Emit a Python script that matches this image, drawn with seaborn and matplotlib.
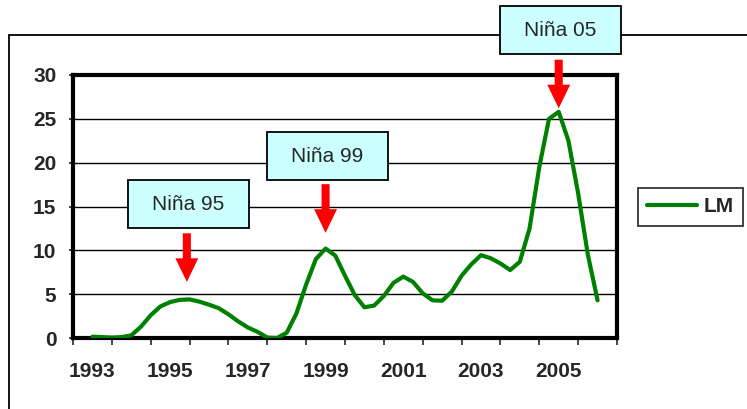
import numpy as np
import pandas as pd
import matplotlib
matplotlib.use('Agg')
import matplotlib.pyplot as plt
from matplotlib.patches import Rectangle
from matplotlib.lines import Line2D
import seaborn as sns

# quarterly values (1993 mid-year to 2006 mid-year)
lm_values = [0.15, 0.1, 0.05, 0.1, 0.3, 1.3, 2.6, 3.6, 4.1, 4.35, 4.4, 4.15,
             3.8, 3.4, 2.7, 1.9, 1.2, 0.7, 0.05, 0.0, 0.6, 2.8, 6.1, 9.0,
             10.2, 9.4, 7.1, 4.9, 3.5, 3.7, 4.8, 6.3, 7.0, 6.4, 5.1, 4.3,
             4.25, 5.3, 7.1, 8.4, 9.45, 9.1, 8.5, 7.75, 8.7, 12.5, 19.5, 25.0,
             25.8, 22.5, 16.5, 9.5, 4.3]
quarters = np.arange(len(lm_values)) * 0.25 + 1993.5
year_labels = ['1993', '1995', '1997', '1999', '2001', '2003', '2005']

events = ['Niña 95', 'Niña 99', 'Niña 05']
event_x = [1995.93, 1999.5, 2005.5]
event_y = [6.4, 12.0, 26.2]
box_px = [(128, 180), (267, 132), (500, 6)]  # top-left corner in pixels

df = pd.DataFrame({'year': quarters, 'LM': lm_values})

sns.set_style('white')
plt.rcParams['font.family'] = ['Liberation Sans', 'DejaVu Sans']

W, H = 747, 409
fig = plt.figure(figsize=(W / 100, H / 100), dpi=100)
ax = fig.add_axes([73 / W, 1 - 338 / H, (617 - 73) / W, (338 - 75) / H])

sns.lineplot(data=df, x='year', y='LM', color='#008000', linewidth=3,
             label='LM', ax=ax, zorder=3)

ax.set_xlim(1993, 2007)
ax.set_ylim(0, 30)
ax.set_yticks(range(0, 31, 5))
ax.set_xticks(range(1993, 2008))
ax.set_xticklabels([])
ax.set_xticks([int(y) + 0.5 for y in year_labels], minor=True)
ax.set_xticklabels(year_labels, minor=True)
ax.set_xlabel('')
ax.set_ylabel('')

ax.yaxis.grid(True, color='black', linewidth=1)
ax.set_axisbelow(True)
for s in ax.spines.values():
    s.set_visible(True)
    s.set_color('black')
    s.set_linewidth(3)

ax.tick_params(axis='y', which='major', direction='out', length=3, width=1.2,
               left=True, labelsize=15, pad=9)
ax.tick_params(axis='x', which='major', direction='out', length=5, width=1.2,
               bottom=True)
ax.tick_params(axis='x', which='minor', length=0, labelsize=15, pad=17)
for lab in ax.get_yticklabels() + ax.get_xticklabels(minor=True):
    lab.set_fontweight('bold')

# red arrows pointing at the La Niña peaks
for x, y in zip(event_x, event_y):
    ax.annotate('', xy=(x, y), xytext=(0, 35), textcoords='offset points',
                annotation_clip=False,
                arrowprops=dict(facecolor='#ff0000', edgecolor='none',
                                width=5.8, headwidth=16.5, headlength=17,
                                shrink=0))

# outer chart-area frame
fig.add_artist(Line2D([9 / W, 9 / W], [0, 1 - 35 / H], color='black', lw=1.3))
fig.add_artist(Line2D([9 / W, 1], [1 - 35 / H, 1 - 35 / H], color='black', lw=1.3))

# labels in boxes
for name, (bx, by) in zip(events, box_px):
    fig.add_artist(Rectangle((bx / W, 1 - (by + 48) / H), 121 / W, 48 / H,
                             transform=fig.transFigure, facecolor='#ccffff',
                             edgecolor='black', linewidth=1.3, zorder=5))
    fig.text((bx + 60.5) / W, 1 - (by + 24) / H, name, ha='center',
             va='center', fontsize=15, zorder=6)

leg = ax.legend(loc='center left', bbox_to_anchor=(638 / W, 1 - 207 / H),
                bbox_transform=fig.transFigure, frameon=True, fancybox=False,
                edgecolor='black', handlelength=2.4, handletextpad=0.3,
                borderpad=0.45, borderaxespad=0,
                prop={'size': 15, 'weight': 'bold'})
leg.get_frame().set_linewidth(1.3)

fig.savefig('out.png', dpi=100)
